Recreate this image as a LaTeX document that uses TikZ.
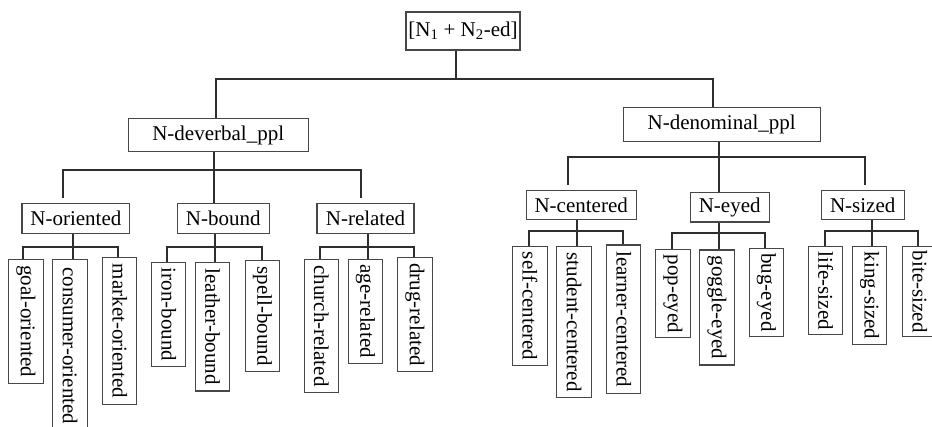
\documentclass[tikz,border=0pt]{standalone}
\usepackage{fontspec}
\setmainfont{Liberation Serif}
\begin{document}
\begin{tikzpicture}[x=1pt,y=-1pt,
  lbox/.style={draw=black!72,line width=1.1pt,rectangle,inner sep=0pt,font=\fontsize{21}{24}\selectfont,fill=white},
  leafbox/.style={lbox,rotate=-90,minimum height=34.3pt},
  conn/.style={draw=black!82,line width=2.2pt,line cap=butt}]
\useasboundingbox (0,0) rectangle (932,427);
% root
\node[lbox,minimum width=114pt,minimum height=38pt] (root) at (463,31) {[N\textsubscript{1} + N\textsubscript{2}-ed]};
% tier 1
\node[lbox,minimum width=179.7pt,minimum height=32.7pt] (dev) at (218.2,135.3) {N-deverbal\_ppl};
\node[lbox,minimum width=196.7pt,minimum height=34pt] (den) at (721.7,124.7) {N-denominal\_ppl};
% tier 2
\node[lbox,minimum width=107.7pt,minimum height=30pt] (ori) at (75.85,218.3) {N-oriented};
\node[lbox,minimum width=92.3pt,minimum height=30pt] (bou) at (223.2,218.3) {N-bound};
\node[lbox,minimum width=97pt,minimum height=30pt] (rel) at (365.5,218.3) {N-related};
\node[lbox,minimum width=110.3pt,minimum height=29.3pt] (cen) at (581.2,205.3) {N-centered};
\node[lbox,minimum width=79.3pt,minimum height=29.7pt] (eye) at (729.7,207.2) {N-eyed};
\node[lbox,minimum width=82.7pt,minimum height=29.3pt] (siz) at (862.7,205.3) {N-sized};
% leaves
\node[leafbox,minimum width=124pt] (goal) at (26,321.3) {goal-oriented};
\node[leafbox,minimum width=172.7pt] (cons) at (70,345.7) {consumer-oriented};
\node[leafbox,minimum width=146.6pt] (mark) at (119.7,331) {market-oriented};
\node[leafbox,minimum width=104.4pt] (iron) at (168.7,314.5) {iron-bound};
\node[leafbox,minimum width=128.7pt] (leat) at (212.5,326.7) {leather-bound};
\node[leafbox,minimum width=110.7pt] (spel) at (262.5,316.3) {spell-bound};
\node[leafbox,minimum width=133.4pt] (chur) at (321.3,326) {church-related};
\node[leafbox,minimum width=104pt] (age) at (365.5,311.3) {age-related};
\node[leafbox,minimum width=114pt] (drug) at (415,314.7) {drug-related};
\node[leafbox,minimum width=119pt] (self) at (530,306.2) {self-centered};
\node[leafbox,minimum width=151pt] (stud) at (574,322.2) {student-centered};
\node[leafbox,minimum width=148.3pt] (lear) at (623.7,319.2) {learner-centered};
\node[leafbox,minimum width=87.7pt] (pop) at (673,293.8) {pop-eyed};
\node[leafbox,minimum width=115pt] (gogg) at (717,307.5) {goggle-eyed};
\node[leafbox,minimum width=88.4pt] (bug) at (766.5,292.5) {bug-eyed};
\node[leafbox,minimum width=88.3pt] (life) at (825.7,290.8) {life-sized};
\node[leafbox,minimum width=97.6pt] (king) at (869.7,295.5) {king-sized};
\node[leafbox,minimum width=90pt] (bite) at (919.7,291.7) {bite-sized};
% junction coordinates
\coordinate (j0) at (456,79);
\coordinate (j0l) at (216,79);
\coordinate (j0r) at (712.7,79);
\coordinate (jd) at (214.3,170);
\coordinate (jdl) at (63.3,170);
\coordinate (jdr) at (360.7,170);
\coordinate (jdle) at (63.3,198);
\coordinate (jdre) at (360.7,198);
\coordinate (jn) at (718.7,156.7);
\coordinate (jnl) at (567.7,156.7);
\coordinate (jnr) at (865.3,156.7);
\coordinate (jnle) at (567.7,185);
\coordinate (jnre) at (865.3,185);
% connectors
\draw[conn] (root.south -| j0) -- (j0);
\draw[conn] (dev.north -| j0l) -- (j0l) -- (j0r) -- (den.north -| j0r);
\draw[conn] (dev.south -| jd) -- (jd) -- (bou.north -| jd);
\draw[conn] (jdle) -- (jdl) -- (jdr) -- (jdre);
\draw[conn] (den.south -| jn) -- (jn) -- (eye.north -| jn);
\draw[conn] (jnle) -- (jnl) -- (jnr) -- (jnre);
% leaf connectors
\coordinate (ko) at (73.3,246.7);
\draw[conn] (ori.south -| ko) -- (ko |- cons.west);
\draw[conn] (goal.west -| 23.3,0) -- (23.3,246.7) -- (117.7,246.7) -- (mark.west -| 117.7,0);
\coordinate (kb) at (215,246.7);
\draw[conn] (bou.south -| kb) -- (kb |- leat.west);
\draw[conn] (iron.west -| 166.7,0) -- (166.7,246.7) -- (261.7,246.7) -- (spel.west -| 261.7,0);
\coordinate (kr) at (368.3,246.7);
\draw[conn] (rel.south -| kr) -- (kr |- age.west);
\draw[conn] (chur.west -| 320,0) -- (320,246.7) -- (414.3,246.7) -- (drug.west -| 414.3,0);
\coordinate (kc) at (577,231);
\draw[conn] (cen.south -| kc) -- (kc |- stud.west);
\draw[conn] (self.west -| 528.7,0) -- (528.7,231) -- (622.7,231) -- (lear.west -| 622.7,0);
\coordinate (ke) at (719.3,233.3);
\draw[conn] (eye.south -| ke) -- (ke |- gogg.west);
\draw[conn] (pop.west -| 671.7,0) -- (671.7,233.3) -- (765.3,233.3) -- (bug.west -| 765.3,0);
\coordinate (ks) at (872,231);
\draw[conn] (siz.south -| ks) -- (ks |- king.west);
\draw[conn] (life.west -| 824.7,0) -- (824.7,231) -- (918.3,231) -- (bite.west -| 918.3,0);
\end{tikzpicture}
\end{document}
